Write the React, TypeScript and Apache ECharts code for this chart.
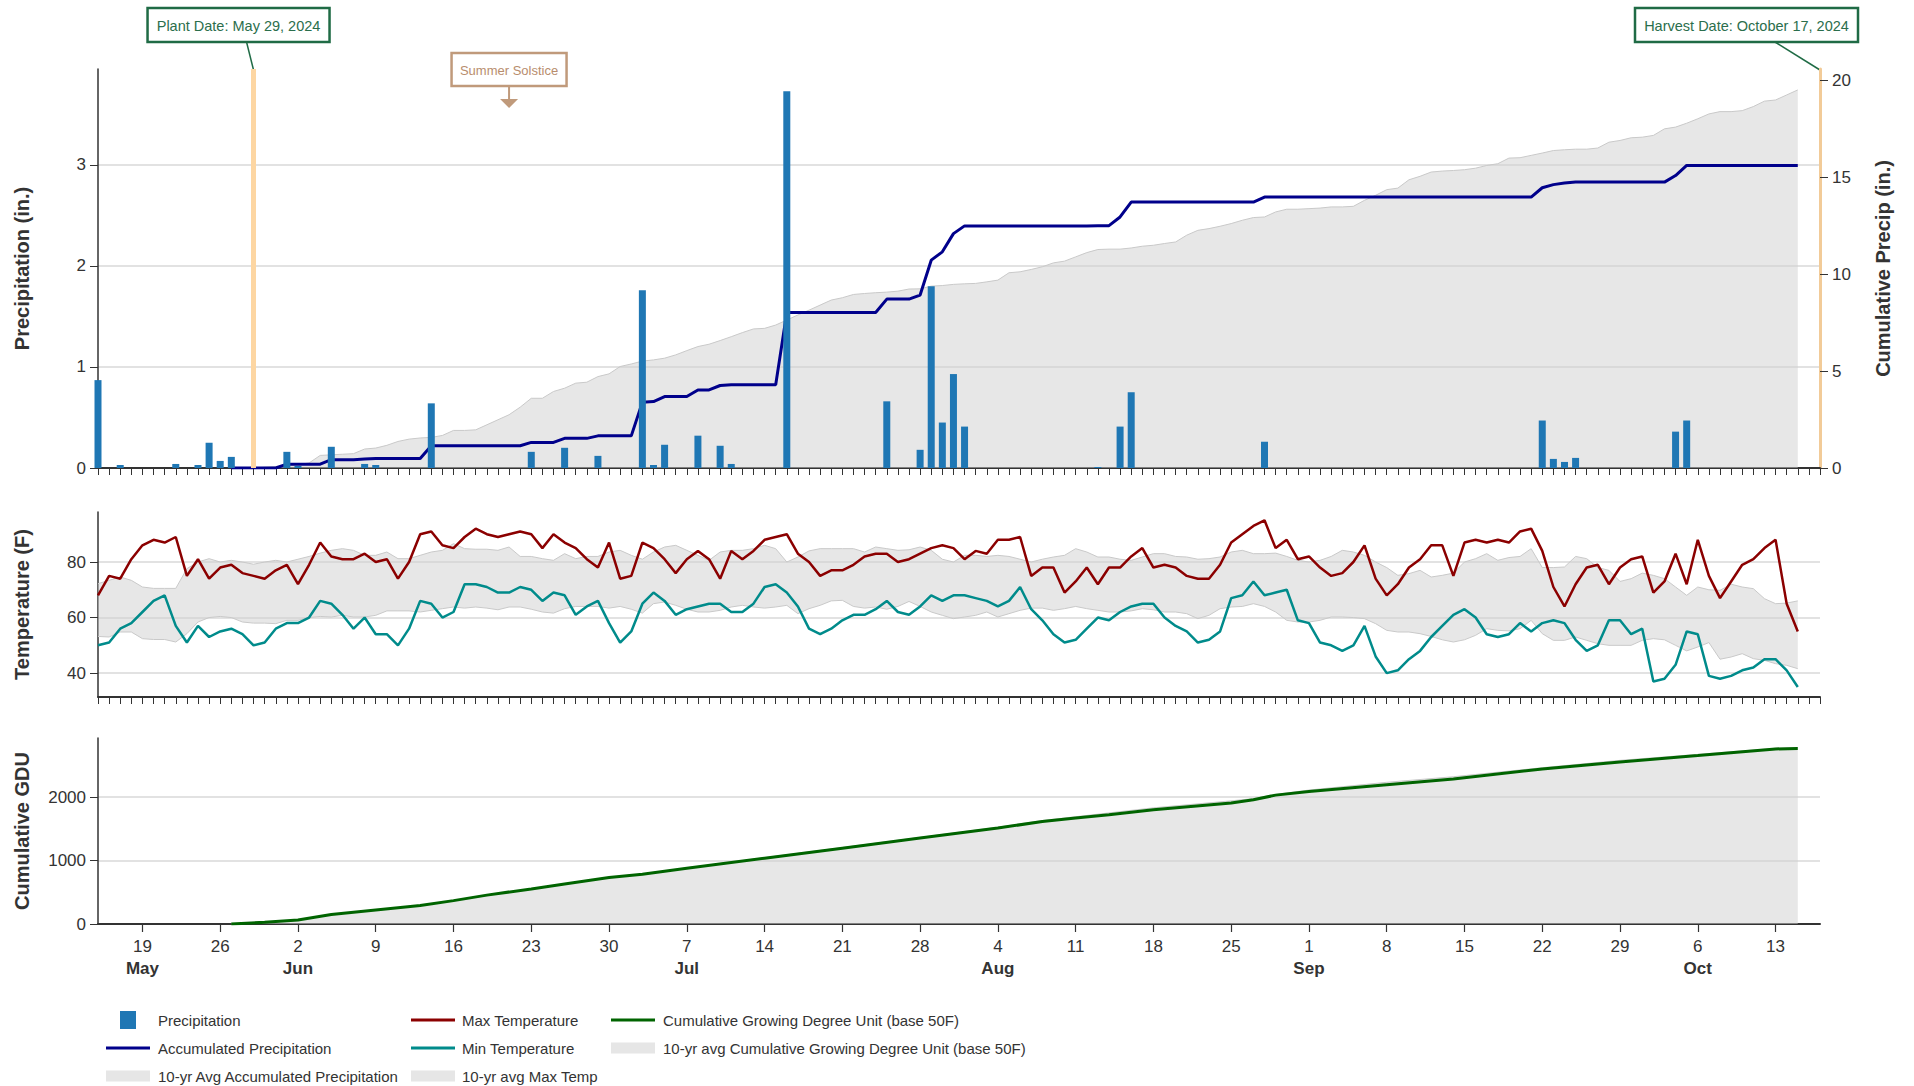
import React, { useEffect, useRef } from 'react';
import * as echarts from 'echarts';

const FONT = "'Liberation Sans', Arial, Helvetica, sans-serif";

// x axis runs from day 0 = May 15, 2024 to day 155 = Oct 17, 2024
const AXIS_END_DAY = 155;
const PLANT_DAY = 14; // May 29
const HARVEST_DAY = 155; // Oct 17
const SOLSTICE_DAY = 37;

const weekTickDays = [4, 11, 18, 25, 32, 39, 46, 53, 60, 67, 74, 81, 88, 95, 102, 109, 116, 123, 130, 137, 144, 151];
const weekTickLabels = ['19', '26', '2', '9', '16', '23', '30', '7', '14', '21', '28', '4', '11', '18', '25', '1', '8', '15', '22', '29', '6', '13'];
const monthLabelDays = [4, 18, 53, 81, 109, 144];
const monthLabelNames = ['May', 'Jun', 'Jul', 'Aug', 'Sep', 'Oct'];

const precipTicks = [0, 1, 2, 3];
const cumPrecipTicks = [0, 5, 10, 15, 20];
const tempTicks = [40, 60, 80];
const gduTicks = [0, 1000, 2000];

// daily values, day 0 .. 153
const precipitation = [
  0.87, 0, 0.03, 0, 0, 0, 0, 0.04, 0, 0.03,
  0.25, 0.07, 0.11, 0, 0, 0, 0, 0.16, 0.02, 0,
  0, 0.21, 0, 0, 0.04, 0.03, 0, 0, 0, 0,
  0.64, 0, 0, 0, 0, 0, 0, 0, 0, 0.16,
  0, 0, 0.2, 0, 0, 0.12, 0, 0, 0, 1.76,
  0.03, 0.23, 0, 0, 0.32, 0, 0.22, 0.04, 0, 0,
  0, 0, 3.73, 0, 0, 0, 0, 0, 0, 0,
  0, 0.66, 0, 0, 0.18, 1.8, 0.45, 0.93, 0.41, 0,
  0, 0, 0, 0, 0, 0, 0, 0, 0, 0,
  0.01, 0, 0.41, 0.75, 0, 0, 0, 0, 0, 0,
  0, 0, 0, 0, 0, 0.26, 0, 0, 0, 0,
  0, 0, 0, 0, 0, 0, 0, 0, 0, 0,
  0, 0, 0, 0, 0, 0, 0, 0, 0, 0,
  0.47, 0.09, 0.06, 0.1, 0, 0, 0, 0, 0, 0,
  0, 0, 0.36, 0.47, 0, 0, 0, 0, 0, 0,
  0, 0, 0, 0,
];

const accumulatedPrecip = [
  null, null, null, null, null, null, null, null, null, null,
  null, null, 0, 0, 0, 0, 0, 0.2, 0.2, 0.2,
  0.2, 0.43, 0.43, 0.43, 0.46, 0.49, 0.49, 0.49, 0.49, 0.49,
  1.15, 1.15, 1.15, 1.15, 1.15, 1.15, 1.15, 1.15, 1.15, 1.32,
  1.32, 1.32, 1.53, 1.53, 1.53, 1.66, 1.66, 1.66, 1.66, 3.4,
  3.43, 3.69, 3.69, 3.69, 4.03, 4.03, 4.26, 4.3, 4.3, 4.3,
  4.3, 4.3, 8.03, 8.03, 8.03, 8.03, 8.03, 8.03, 8.03, 8.03,
  8.03, 8.72, 8.72, 8.72, 8.93, 10.73, 11.16, 12.1, 12.5, 12.5,
  12.5, 12.5, 12.5, 12.5, 12.5, 12.5, 12.5, 12.5, 12.5, 12.5,
  12.51, 12.51, 12.96, 13.73, 13.73, 13.73, 13.73, 13.73, 13.73, 13.73,
  13.73, 13.73, 13.73, 13.73, 13.73, 13.99, 13.99, 13.99, 13.99, 13.99,
  13.99, 13.99, 13.99, 13.99, 13.99, 13.99, 13.99, 13.99, 13.99, 13.99,
  13.99, 13.99, 13.99, 13.99, 13.99, 13.99, 13.99, 13.99, 13.99, 13.99,
  14.47, 14.63, 14.71, 14.76, 14.76, 14.76, 14.76, 14.76, 14.76, 14.76,
  14.76, 14.76, 15.1, 15.62, 15.62, 15.62, 15.62, 15.62, 15.62, 15.62,
  15.62, 15.62, 15.62, 15.62,
];

const avgAccumulatedPrecip = [
  null, null, null, null, null, null, null, null, null, null,
  null, null, 0, 0, 0, 0.04, 0.08, 0.12, 0.18, 0.26,
  0.65, 0.68, 0.71, 0.74, 0.98, 1.03, 1.17, 1.37, 1.49, 1.55,
  1.58, 1.68, 1.94, 1.94, 1.97, 2.23, 2.49, 2.75, 3.14, 3.6,
  3.6, 3.95, 4.12, 4.38, 4.43, 4.72, 4.86, 5.24, 5.37, 5.52,
  5.58, 5.67, 5.84, 6.06, 6.27, 6.39, 6.58, 6.78, 6.99, 7.18,
  7.21, 7.38, 7.64, 7.9, 8.15, 8.41, 8.67, 8.79, 8.96, 9.01,
  9.05, 9.08, 9.13, 9.24, 9.25, 9.39, 9.42, 9.48, 9.51, 9.53,
  9.61, 9.7, 10.08, 10.13, 10.25, 10.39, 10.59, 10.68, 10.9, 11.12,
  11.28, 11.3, 11.3, 11.36, 11.45, 11.5, 11.59, 11.67, 12.02, 12.27,
  12.36, 12.48, 12.62, 12.79, 12.93, 12.96, 13.22, 13.36, 13.36, 13.39,
  13.42, 13.48, 13.48, 13.51, 13.82, 14.08, 14.37, 14.45, 14.88, 15.06,
  15.28, 15.33, 15.36, 15.4, 15.48, 15.62, 15.71, 16.0, 16.02, 16.14,
  16.26, 16.39, 16.43, 16.46, 16.46, 16.52, 16.82, 16.91, 17.05, 17.08,
  17.17, 17.51, 17.6, 17.8, 18.03, 18.28, 18.4, 18.4, 18.45, 18.66,
  18.94, 19.0, 19.26, 19.52,
];

const maxTemp = [
  68, 75, 74, 81, 86, 88, 87, 89, 75, 81,
  74, 78, 79, 76, 75, 74, 77, 79, 72, 79,
  87, 82, 81, 81, 83, 80, 81, 74, 80, 90,
  91, 86, 85, 89, 92, 90, 89, 90, 91, 90,
  85, 90, 87, 85, 81, 78, 87, 74, 75, 87,
  85, 81, 76, 81, 84, 81, 74, 84, 81, 84,
  88, 89, 90, 83, 80, 75, 77, 77, 79, 82,
  83, 83, 80, 81, 83, 85, 86, 85, 81, 84,
  83, 88, 88, 89, 75, 78, 78, 69, 73, 78,
  72, 78, 78, 82, 85, 78, 79, 78, 75, 74,
  74, 79, 87, 90, 93, 95, 85, 88, 81, 82,
  78, 75, 76, 80, 86, 74, 68, 72, 78, 81,
  86, 86, 75, 87, 88, 87, 88, 87, 91, 92,
  84, 71, 64, 72, 78, 79, 72, 78, 81, 82,
  69, 73, 83, 72, 88, 75, 67, 73, 79, 81,
  85, 88, 65, 55,
];

const minTemp = [
  50, 51, 56, 58, 62, 66, 68, 57, 51, 57,
  53, 55, 56, 54, 50, 51, 56, 58, 58, 60,
  66, 65, 61, 56, 60, 54, 54, 50, 56, 66,
  65, 60, 62, 72, 72, 71, 69, 69, 71, 70,
  66, 69, 68, 61, 64, 66, 58, 51, 55, 65,
  69, 66, 61, 63, 64, 65, 65, 62, 62, 65,
  71, 72, 69, 64, 56, 54, 56, 59, 61, 61,
  63, 66, 62, 61, 64, 68, 66, 68, 68, 67,
  66, 64, 66, 71, 63, 59, 54, 51, 52, 56,
  60, 59, 62, 64, 65, 65, 60, 57, 55, 51,
  52, 55, 67, 68, 73, 68, 69, 70, 59, 58,
  51, 50, 48, 50, 57, 46, 40, 41, 45, 48,
  53, 57, 61, 63, 60, 54, 53, 54, 58, 55,
  58, 59, 58, 52, 48, 50, 59, 59, 54, 56,
  37, 38, 43, 55, 54, 39, 38, 39, 41, 42,
  45, 45, 41, 35,
];

const avgMaxTemp = [
  72.2, 73.4, 74.6, 73.4, 71, 70.5, 70.5, 70.5, 77.6, 80,
  81.2, 80, 80.6, 80, 79.2, 80, 80.6, 80, 81, 82,
  83.2, 84.2, 84.8, 84.2, 82.4, 82.4, 83.6, 81.2, 81.2, 82.4,
  83.6, 84.2, 86.6, 84.8, 84.6, 84.6, 84.2, 85.4, 82, 82,
  81.2, 80.6, 83, 81.2, 82, 82, 83.6, 84.2, 82.4, 81,
  83.6, 85.4, 86, 84.2, 82.4, 80.6, 83.6, 84.2, 84.2, 84.8,
  86, 84.8, 80, 81.8, 84, 84.8, 84.8, 84.8, 84.8, 83.6,
  85.4, 84.8, 84.2, 84.4, 85.4, 84.2, 81, 80, 82.4, 82.4,
  82, 82.4, 82, 81, 80, 81, 81.8, 82.4, 84.8, 83.6,
  81.8, 81.8, 81, 80.6, 81.8, 83, 83, 82, 81.8, 81,
  81.2, 81.8, 83.6, 84.2, 83, 83, 83.2, 82, 80.6, 80,
  80.6, 82, 84.2, 83.6, 82.4, 80, 78, 75.2, 75.8, 77,
  74.6, 75.2, 76, 80, 81.2, 83, 80.6, 81.6, 82, 84.8,
  78, 78, 78.2, 82, 81.2, 78, 77, 73, 74, 76,
  75.2, 74, 71, 68, 71, 70, 69.8, 72, 71, 70.4,
  66.8, 65, 65.2, 66,
];

const avgMinTemp = [
  53.2, 53, 54.8, 54.8, 52.4, 52.1, 52.1, 51.2, 54.2, 58.4,
  60, 60.4, 60, 58.4, 58, 58, 57.8, 59, 59, 60,
  60.4, 60.2, 60.8, 60.2, 60.2, 60.8, 62.4, 62.4, 62.4, 62,
  62.6, 63.2, 63.8, 63.4, 63.8, 63.4, 62.8, 63.8, 63.8, 63,
  62, 61.6, 63.2, 64, 64, 64, 63.4, 64, 63, 61.6,
  65, 65.6, 64.4, 63, 62, 62, 62.6, 63.8, 64.4, 63.8,
  63.4, 63.8, 64.4, 61.4, 63.2, 64.4, 66, 66.2, 64, 63.4,
  63.8, 63, 64, 65.8, 64, 62, 60.8, 59.6, 60.2, 60.8,
  62, 60.2, 61.4, 62.6, 63.4, 63.4, 62.6, 63.2, 64, 63.2,
  62.6, 62, 62, 62.4, 63.2, 62.8, 62, 62, 61.4, 59.6,
  60.8, 63.2, 63.8, 64, 65, 64, 62, 59, 58.4, 58.4,
  59, 60.2, 60.2, 60, 59.6, 57.8, 55.4, 54.8, 54.8, 54.2,
  53.2, 52, 51.2, 52, 53.6, 56, 55.4, 55.2, 56, 59,
  54.2, 51.8, 51.8, 53, 51.8, 50.6, 50, 50, 50, 51.8,
  52.4, 52, 50, 48, 49.4, 51, 45, 45.8, 47, 45.2,
  44.6, 43.4, 42.8, 41.6,
];

// cumulative GDU, read at these days
const gduDays = [12, 15, 18, 21, 25, 29, 32, 35, 39, 42, 46, 49, 53, 60, 67, 74, 81, 85, 88, 91, 95, 102, 104, 106, 109, 116, 122, 130, 137, 144, 151, 153];
const gdu = [0, 26, 63, 150, 221, 290, 368, 455, 553, 630, 732, 785, 879, 1037, 1195, 1353, 1511, 1616, 1668, 1721, 1800, 1905, 1958, 2030, 2089, 2195, 2284, 2442, 2553, 2653, 2758, 2763];
const avgGdu = [0, 26, 63, 150, 221, 290, 368, 455, 553, 632, 735, 790, 885, 1045, 1205, 1365, 1525, 1630, 1690, 1750, 1830, 1940, 1975, 2040, 2110, 2232, 2320, 2462, 2578, 2672, 2768, 2778];

const GRID_LEFT = 98;
const GRID_WIDTH = 1722;
const GRIDS = [
  { top: 69, height: 399 },
  { top: 512, height: 185 },
  { top: 738, height: 186 },
];

const pairs = (arr: (number | null)[]) =>
  arr.map((v, i) => (v == null ? null : [i, v])).filter((p) => p !== null);
const pointPairs = (days: number[], vals: number[]) => days.map((d, i) => [d, vals[i]]);
const allDays = Array.from({ length: AXIS_END_DAY + 1 }, (_, i) => i);

const GRAY_LINE = '#c9c9c9';
const GRAY_FILL = '#d0d0d0';

function lineSeries(name: string, data: any[], xi: number, yi: number, color: string, width: number, z: number, extra: any = {}) {
  return {
    name,
    type: 'line',
    xAxisIndex: xi,
    yAxisIndex: yi,
    data,
    z,
    symbol: 'none',
    showSymbol: false,
    lineStyle: { color, width },
    itemStyle: { color },
    emphasis: { disabled: true },
    ...extra,
  };
}

function buildOption() {
  const xLabelFormatter = (v: number) => {
    const d = Math.round(v);
    const i = weekTickDays.indexOf(d);
    if (i < 0) return '';
    const m = monthLabelDays.indexOf(d);
    return m >= 0 ? `{d|${weekTickLabels[i]}}\n{m|${monthLabelNames[m]}}` : `{d|${weekTickLabels[i]}}`;
  };

  const xAxis = GRIDS.map((_, i) => ({
    type: 'value',
    gridIndex: i,
    min: 0,
    max: AXIS_END_DAY,
    splitLine: { show: false },
    axisLine: { show: true, onZero: false, lineStyle: { color: '#333', width: 2 } },
    axisTick:
      i < 2
        ? { show: true, customValues: allDays, length: 7, lineStyle: { color: '#333', width: 1 } }
        : { show: true, customValues: weekTickDays, length: 8, lineStyle: { color: '#333', width: 1.2 } },
    axisLabel:
      i < 2
        ? { show: false }
        : {
            show: true,
            customValues: weekTickDays,
            margin: 11,
            formatter: xLabelFormatter,
            rich: {
              d: { fontSize: 17, color: '#333', lineHeight: 22, fontFamily: FONT },
              m: { fontSize: 17, color: '#333', fontWeight: 'bold', lineHeight: 22, fontFamily: FONT },
            },
          },
  }));

  const yAxisBase = (gridIndex: number, min: number, max: number, ticks: number[]) => ({
    type: 'value',
    gridIndex,
    min,
    max,
    axisLine: { show: true, onZero: false, lineStyle: { color: '#333', width: 1.5 } },
    axisTick: { show: true, customValues: ticks, length: 8, lineStyle: { color: '#333', width: 1 } },
    axisLabel: {
      show: true,
      customValues: ticks,
      margin: 12,
      fontSize: 17,
      color: '#333',
      fontFamily: FONT,
      formatter: (v: number) => String(v),
    },
    splitLine: { show: true, lineStyle: { color: '#d9d9d9', width: 1.5 } },
  });

  const yAxis = [
    { ...yAxisBase(0, 0, 3.95, precipTicks), position: 'left' },
    {
      ...yAxisBase(0, 0, 20.6, cumPrecipTicks),
      position: 'right',
      axisLine: { show: true, onZero: false, lineStyle: { color: '#f2cb98', width: 3 } },
      splitLine: { show: false },
    },
    { ...yAxisBase(1, 31.4, 98, tempTicks), position: 'left' },
    { ...yAxisBase(2, 0, 2930, gduTicks), position: 'left' },
  ];

  const series: any[] = [
    lineSeries('10-yr Avg Accumulated Precipitation', pairs(avgAccumulatedPrecip), 0, 1, GRAY_LINE, 1, 1, {
      areaStyle: { color: GRAY_FILL, opacity: 0.5 },
    }),
    lineSeries('Accumulated Precipitation', pairs(accumulatedPrecip), 0, 1, '#00008b', 3, 3),
    {
      name: 'Precipitation',
      type: 'bar',
      xAxisIndex: 0,
      yAxisIndex: 0,
      z: 4,
      data: pairs(precipitation),
      barWidth: 7,
      itemStyle: { color: '#1f77b4' },
      emphasis: { disabled: true },
      markLine: {
        silent: true,
        symbol: ['none', 'none'],
        label: { show: false },
        lineStyle: { color: '#fdd6a2', width: 5, type: 'solid', opacity: 1 },
        data: [{ xAxis: PLANT_DAY }],
      },
    },
    {
      name: '10-yr avg Max Temp',
      type: 'custom',
      xAxisIndex: 1,
      yAxisIndex: 2,
      z: 1,
      silent: true,
      data: avgMaxTemp.map((v, i) => [i, avgMinTemp[i], v]),
      encode: { x: 0, y: [1, 2] },
      renderItem: (params: any, api: any) => {
        if (params.dataIndex !== 0) return { type: 'group', children: [] };
        const upper = avgMaxTemp.map((v, i) => api.coord([i, v]));
        const lower = avgMinTemp.map((v, i) => api.coord([i, v])).reverse();
        return {
          type: 'polygon',
          shape: { points: upper.concat(lower) },
          style: { fill: GRAY_FILL, opacity: 0.5 },
          silent: true,
        };
      },
    },
    lineSeries('10-yr avg Max Temp edge', pairs(avgMaxTemp), 1, 2, GRAY_LINE, 1, 2),
    lineSeries('10-yr avg Min Temp edge', pairs(avgMinTemp), 1, 2, GRAY_LINE, 1, 2),
    lineSeries('Max Temperature', pairs(maxTemp), 1, 2, '#8b0000', 2.5, 3),
    lineSeries('Min Temperature', pairs(minTemp), 1, 2, '#008b8b', 2.5, 3),
    lineSeries('10-yr avg Cumulative Growing Degree Unit (base 50F)', pointPairs(gduDays, avgGdu), 2, 3, GRAY_LINE, 1, 1, {
      areaStyle: { color: GRAY_FILL, opacity: 0.5 },
    }),
    lineSeries('Cumulative Growing Degree Unit (base 50F)', pointPairs(gduDays, gdu), 2, 3, '#006400', 3, 3),
  ];

  return {
    animation: false,
    backgroundColor: '#fff',
    textStyle: { fontFamily: FONT },
    grid: GRIDS.map((g) => ({ left: GRID_LEFT, width: GRID_WIDTH, top: g.top, height: g.height, containLabel: false })),
    xAxis,
    yAxis,
    series,
  };
}

const LEGEND_COLS = [
  { symbolX: 106, textX: 158 },
  { symbolX: 411, textX: 462 },
  { symbolX: 611, textX: 663 },
];
const LEGEND_ROWS = [1020, 1048, 1076];
const legendItems = [
  { col: 0, row: 0, kind: 'square', color: '#1f77b4', label: 'Precipitation' },
  { col: 0, row: 1, kind: 'line', color: '#00008b', label: 'Accumulated Precipitation' },
  { col: 0, row: 2, kind: 'area', color: '#e6e6e6', label: '10-yr Avg Accumulated Precipitation' },
  { col: 1, row: 0, kind: 'line', color: '#8b0000', label: 'Max Temperature' },
  { col: 1, row: 1, kind: 'line', color: '#008b8b', label: 'Min Temperature' },
  { col: 1, row: 2, kind: 'area', color: '#e6e6e6', label: '10-yr avg Max Temp' },
  { col: 2, row: 0, kind: 'line', color: '#006400', label: 'Cumulative Growing Degree Unit (base 50F)' },
  { col: 2, row: 1, kind: 'area', color: '#e6e6e6', label: '10-yr avg Cumulative Growing Degree Unit (base 50F)' },
];

function textEl(x: number, y: number, text: string, opts: any = {}) {
  const { rotation, ...style } = opts;
  return {
    type: 'text',
    x,
    y,
    rotation: rotation || 0,
    silent: true,
    style: {
      text,
      fontFamily: FONT,
      fontSize: 15,
      fill: '#333',
      align: 'center',
      verticalAlign: 'middle',
      textAlign: 'center',
      textVerticalAlign: 'middle',
      ...style,
    },
  };
}

function buildGraphics(plantX: number, harvestX: number, solX: number) {
  const els: any[] = [];
  const gTop = GRIDS[0].top;

  // axis titles
  const titleStyle = { fontSize: 20, fontWeight: 'bold', fill: '#333', rotation: Math.PI / 2 };
  els.push(textEl(22, GRIDS[0].top + GRIDS[0].height / 2, 'Precipitation (in.)', titleStyle));
  els.push(textEl(1883, GRIDS[0].top + GRIDS[0].height / 2, 'Cumulative Precip (in.)', titleStyle));
  els.push(textEl(22, GRIDS[1].top + GRIDS[1].height / 2, 'Temperature (F)', titleStyle));
  els.push(textEl(22, GRIDS[2].top + GRIDS[2].height / 2, 'Cumulative GDU', titleStyle));

  // legend
  legendItems.forEach((it) => {
    const c = LEGEND_COLS[it.col];
    const y = LEGEND_ROWS[it.row];
    if (it.kind === 'square') {
      els.push({ type: 'rect', silent: true, shape: { x: c.symbolX + 14, y: y - 9, width: 16, height: 18 }, style: { fill: it.color } });
    } else if (it.kind === 'line') {
      els.push({ type: 'rect', silent: true, shape: { x: c.symbolX, y: y - 1.5, width: 44, height: 3 }, style: { fill: it.color } });
    } else {
      els.push({ type: 'rect', silent: true, shape: { x: c.symbolX, y: y - 5.5, width: 44, height: 11 }, style: { fill: it.color } });
    }
    els.push(textEl(c.textX, y, it.label, { align: 'left', textAlign: 'left', fontSize: 15, fill: '#333' }));
  });

  // plant date annotation
  const green = '#1f6b45';
  els.push({ type: 'line', silent: true, shape: { x1: plantX - 7, y1: 42, x2: plantX, y2: gTop + 1 }, style: { stroke: green, lineWidth: 1.5 } });
  els.push({ type: 'rect', silent: true, shape: { x: plantX - 106, y: 8, width: 182, height: 34 }, style: { fill: '#fff', stroke: green, lineWidth: 2.5 } });
  els.push(textEl(plantX - 15, 25.5, 'Plant Date: May 29, 2024', { fontSize: 14.5, fill: '#2b6e4c' }));

  // harvest date annotation
  els.push({ type: 'line', silent: true, shape: { x1: harvestX - 45, y1: 42, x2: harvestX, y2: gTop + 1 }, style: { stroke: green, lineWidth: 1.5 } });
  els.push({ type: 'rect', silent: true, shape: { x: harvestX - 185, y: 8, width: 223, height: 34 }, style: { fill: '#fff', stroke: green, lineWidth: 2.5 } });
  els.push(textEl(harvestX - 73.5, 25.5, 'Harvest Date: October 17, 2024', { fontSize: 14.5, fill: '#2b6e4c' }));

  // summer solstice annotation
  const tan = '#c09a7b';
  els.push({ type: 'rect', silent: true, shape: { x: solX - 57.5, y: 53, width: 115, height: 33 }, style: { fill: '#fff', stroke: tan, lineWidth: 2.5 } });
  els.push(textEl(solX, 70, 'Summer Solstice', { fontSize: 13, fill: '#b88d6d' }));
  els.push({ type: 'line', silent: true, shape: { x1: solX, y1: 86, x2: solX, y2: 100 }, style: { stroke: tan, lineWidth: 2 } });
  els.push({ type: 'polygon', silent: true, shape: { points: [[solX - 9, 99], [solX + 9, 99], [solX, 108]] }, style: { fill: tan } });

  return els;
}

export default function App() {
  const ref = useRef<HTMLDivElement>(null);
  useEffect(() => {
    if (!ref.current) return;
    const chart = echarts.init(ref.current, undefined, { renderer: 'svg' });
    chart.setOption(buildOption() as any);
    const px = (d: number) => chart.convertToPixel({ xAxisIndex: 0 }, d) as number;
    chart.setOption({ graphic: buildGraphics(px(PLANT_DAY), px(HARVEST_DAY), px(SOLSTICE_DAY)) } as any);
    return () => chart.dispose();
  }, []);
  return <div ref={ref} style={{ position: 'absolute', left: 0, top: 0, width: 1914, height: 1086 }} />;
}
